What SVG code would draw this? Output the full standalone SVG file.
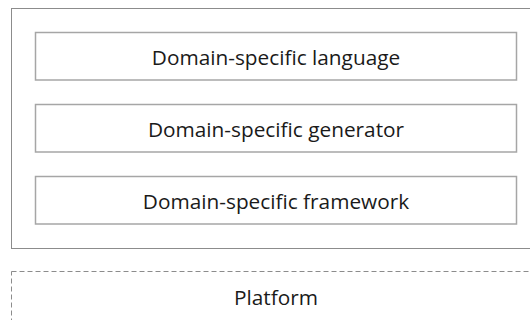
<svg xmlns="http://www.w3.org/2000/svg" width="530" height="320" viewBox="0 0 530 320">
  <style>
    .outer { fill: #ffffff; stroke: #8c8c8c; stroke-width: 1; }
    .layer { fill: #ffffff; stroke: #a6a6a6; stroke-width: 1.5; }
    .platform { fill: #ffffff; stroke: #8c8c8c; stroke-width: 1; stroke-dasharray: 5 3; }
    .label { font-family: "Open Sans", "Liberation Sans", sans-serif; font-size: 20.8px; fill: #1a1a1a; text-anchor: middle; }
  </style>
  <rect width="530" height="320" fill="#ffffff"/>
  <g id="domain-stack">
    <rect class="outer" x="11.5" y="8.5" width="530" height="240"/>
  </g>
  <g id="dsl">
    <rect class="layer" x="35.5" y="32.5" width="481" height="47.5"/>
    <text class="label" x="276" y="65">Domain-specific language</text>
  </g>
  <g id="generator">
    <rect class="layer" x="35.5" y="104.5" width="481" height="47.5"/>
    <text class="label" x="276" y="137">Domain-specific generator</text>
  </g>
  <g id="framework">
    <rect class="layer" x="35.5" y="176.5" width="481" height="47.5"/>
    <text class="label" x="276" y="209">Domain-specific framework</text>
  </g>
  <g id="platform">
    <rect class="platform" x="11.5" y="271.5" width="530" height="60"/>
    <text class="label" x="276" y="305">Platform</text>
  </g>
  <g id="connectors"/>
</svg>
